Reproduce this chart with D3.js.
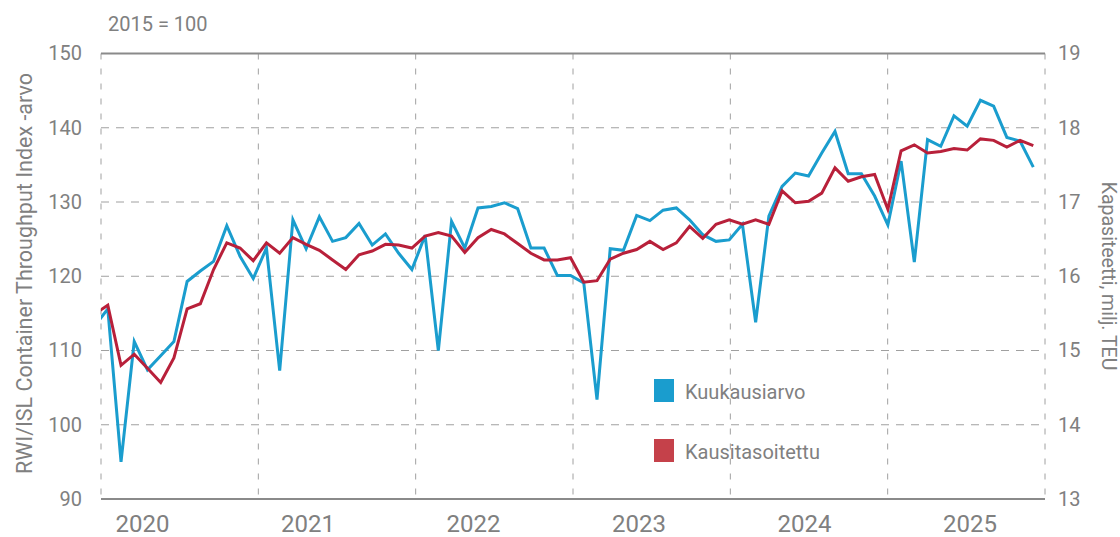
<!DOCTYPE html>
<html>
<head>
<meta charset="utf-8">
<script src="https://cdn.jsdelivr.net/npm/d3@7"></script>
<style>
  html, body { margin: 0; padding: 0; background: #ffffff; }
  svg { display: block; font-family: Roboto, "Noto Sans", Arial, sans-serif; }
</style>
</head>
<body>
<svg id="chart" width="1120" height="537"></svg>
<script>
// Monthly series, index 0 = Dec 2019 (clipped at the plot edge), index 1 = Jan 2020 ... Nov 2025
const monthly = [
  113.3,
  115.6, 95.0, 111.2, 107.4, 109.3, 111.2, 119.3, 120.7, 122.0, 126.8, 122.7, 119.7,
  123.8, 107.3, 127.6, 123.7, 128.0, 124.7, 125.2, 127.1, 124.2, 125.7, 123.1, 120.9,
  125.5, 110.0, 127.4, 123.8, 129.2, 129.4, 129.9, 129.1, 123.8, 123.8, 120.1, 120.1,
  119.1, 103.4, 123.7, 123.5, 128.2, 127.5, 128.9, 129.2, 127.6, 125.6, 124.7, 124.9,
  127.0, 113.8, 128.1, 132.1, 133.9, 133.5, 136.6, 139.5, 133.8, 133.8, 130.8, 126.9,
  135.5, 121.9, 138.4, 137.5, 141.6, 140.2, 143.7, 142.9, 138.7, 138.2, 134.7
];
const seasonal = [
  114.9,
  116.1, 108.0, 109.5, 107.6, 105.7, 109.0, 115.6, 116.3, 120.9, 124.5, 123.8, 122.1,
  124.5, 123.1, 125.2, 124.3, 123.5, 122.2, 120.9, 122.9, 123.4, 124.3, 124.2, 123.8,
  125.4, 125.9, 125.4, 123.2, 125.2, 126.3, 125.7, 124.4, 123.1, 122.2, 122.2, 122.5,
  119.2, 119.4, 122.3, 123.1, 123.6, 124.7, 123.6, 124.5, 126.7, 125.1, 127.0, 127.6,
  127.0, 127.6, 127.0, 131.5, 129.9, 130.1, 131.2, 134.6, 132.8, 133.4, 133.7, 129.0,
  136.9, 137.7, 136.6, 136.8, 137.2, 137.0, 138.5, 138.3, 137.4, 138.3, 137.6
];
const years = ["2020", "2021", "2022", "2023", "2024", "2025"];
const leftTicks = [90, 100, 110, 120, 130, 140, 150];
const rightTicks = [13, 14, 15, 16, 17, 18, 19];
const seriesNames = ["Kuukausiarvo", "Kausitasoitettu"];
const baseLabel = "2015 = 100";
const leftTitle = "RWI/ISL Container Throughput Index -arvo";
const rightTitle = "Kapasiteetti, milj. TEU";

const colors = { monthly: "#1a9dce", seasonal: "#b8203a", seasonalKey: "#c5414a", text: "#808080", grid: "#a0a0a0", frame: "#8a8a8a" };

const plot = { left: 101, right: 1045, top: 53.5, bottom: 499 };
const svg = d3.select("#chart");

const y = d3.scaleLinear().domain([90, 150]).range([plot.bottom, plot.top]);
const yR = d3.scaleLinear().domain([13, 19]).range([plot.bottom, plot.top]);
const yearBand = d3.scaleBand().domain(years).range([plot.left, plot.right]).padding(0);
const yearLabel = d3.scalePoint().domain(years).range([142.4, 970]);
const x = d3.scaleLinear().domain([1, 71]).range([107.8, 1033.3]);

// clip for the data lines
svg.append("defs").append("clipPath").attr("id", "plotClip")
  .append("rect")
  .attr("x", plot.left).attr("y", 0)
  .attr("width", plot.right - plot.left).attr("height", 537);

// horizontal dashed grid
const grid = svg.append("g");
grid.selectAll("line.h")
  .data(leftTicks.filter(v => v !== 90 && v !== 150))
  .join("line")
  .attr("x1", plot.left).attr("x2", plot.right)
  .attr("y1", d => y(d)).attr("y2", d => y(d))
  .attr("stroke", colors.grid).attr("stroke-width", 1)
  .attr("stroke-dasharray", "8,7");

// vertical dashed grid at year boundaries and plot edges
const edges = years.map(yr => yearBand(yr)).concat([plot.right]);
grid.selectAll("line.v")
  .data(edges)
  .join("line")
  .attr("x1", d => d).attr("x2", d => d)
  .attr("y1", plot.top).attr("y2", plot.bottom)
  .attr("stroke", colors.grid).attr("stroke-width", 1)
  .attr("stroke-dasharray", "6,9");

// solid top and bottom frame lines
[150, 90].forEach(v => {
  svg.append("line")
    .attr("x1", plot.left).attr("x2", plot.right)
    .attr("y1", y(v)).attr("y2", y(v))
    .attr("stroke", colors.frame).attr("stroke-width", 2);
});

// left axis
const gl = svg.append("g").attr("transform", `translate(${plot.left},0)`)
  .call(d3.axisLeft(y).tickValues(leftTicks).tickSize(0).tickPadding(19).tickFormat(d3.format("d")));
gl.select(".domain").remove();
gl.selectAll("text").attr("fill", colors.text).style("font-size", "20px").style("font-family", "Roboto, sans-serif");

// right axis
const gr = svg.append("g").attr("transform", `translate(${plot.right},0)`)
  .call(d3.axisRight(yR).tickValues(rightTicks).tickSize(0).tickPadding(13).tickFormat(d3.format("d")));
gr.select(".domain").remove();
gr.selectAll("text").attr("fill", colors.text).style("font-size", "20px").style("font-family", "Roboto, sans-serif");

// year labels
svg.append("g").selectAll("text")
  .data(years)
  .join("text")
  .attr("x", d => yearLabel(d))
  .attr("y", 532)
  .attr("text-anchor", "middle")
  .attr("fill", colors.text)
  .style("font-size", "24px")
  .text(d => d);

// base year note
svg.append("text")
  .attr("x", 108).attr("y", 31)
  .attr("fill", colors.text)
  .style("font-size", "20px")
  .text(baseLabel);

// axis titles
svg.append("text")
  .attr("transform", `translate(32,${(67 + 480) / 2}) rotate(-90)`)
  .attr("text-anchor", "middle")
  .attr("fill", colors.text)
  .style("font-size", "21.5px")
  .text(leftTitle);

svg.append("text")
  .attr("transform", `translate(1102,${(172 + 380) / 2}) rotate(90)`)
  .attr("text-anchor", "middle")
  .attr("fill", colors.text)
  .style("font-size", "19.5px")
  .text(rightTitle);

// data lines
const line = d3.line().x((d, i) => x(i)).y(d => y(d));
const lines = svg.append("g").attr("clip-path", "url(#plotClip)");
lines.append("path").datum(monthly)
  .attr("d", line).attr("fill", "none")
  .attr("stroke", colors.monthly).attr("stroke-width", 3).attr("stroke-linejoin", "miter");
lines.append("path").datum(seasonal)
  .attr("d", line).attr("fill", "none")
  .attr("stroke", colors.seasonal).attr("stroke-width", 3).attr("stroke-linejoin", "miter");

// legend
const legend = svg.append("g");
const keys = [
  { name: seriesNames[0], color: colors.monthly, y: 379 },
  { name: seriesNames[1], color: colors.seasonalKey, y: 439 }
];
keys.forEach(k => {
  legend.append("rect").attr("x", 654).attr("y", k.y).attr("width", 20).attr("height", 23).attr("fill", k.color);
  legend.append("text").attr("x", 685).attr("y", k.y + 20)
    .attr("fill", colors.text).style("font-size", "20px").text(k.name);
});
</script>
</body>
</html>
